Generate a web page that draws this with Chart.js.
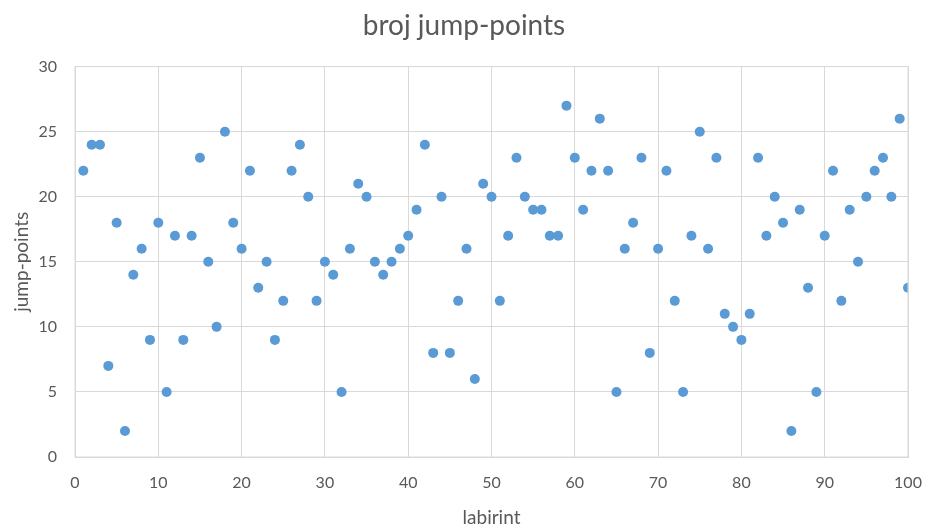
<!DOCTYPE html>
<html>
<head>
<meta charset="utf-8">
<script src="https://cdn.jsdelivr.net/npm/chart.js@4"></script>
<style>
html,body{margin:0;padding:0;background:#fff;}
#wrap{width:928px;height:529px;position:relative;}
</style>
</head>
<body>
<div id="wrap"><canvas id="c" width="928" height="529"></canvas></div>
<script>
const chartTitle = "broj jump-points";
const xTitle = "labirint";
const yTitle = "jump-points";
const labyrinths = [1,2,3,4,5,6,7,8,9,10,11,12,13,14,15,16,17,18,19,20,21,22,23,24,25,26,27,28,29,30,31,32,33,34,35,36,37,38,39,40,41,42,43,44,45,46,47,48,49,50,51,52,53,54,55,56,57,58,59,60,61,62,63,64,65,66,67,68,69,70,71,72,73,74,75,76,77,78,79,80,81,82,83,84,85,86,87,88,89,90,91,92,93,94,95,96,97,98,99,100];
const jumpPoints = [22,24,24,7,18,2,14,16,9,18,5,17,9,17,23,15,10,25,18,16,22,13,15,9,12,22,24,20,12,15,14,5,16,21,20,15,14,15,16,17,19,24,8,20,8,12,16,6,21,20,12,17,23,20,19,19,17,17,27,23,19,22,26,22,5,16,18,23,8,16,22,12,5,17,25,16,23,11,10,9,11,23,17,20,18,2,19,13,5,17,22,12,19,15,20,22,23,20,26,13];
const xMin = 0, xMax = 100, xStep = 10;
const yMin = 0, yMax = 30, yStep = 5;

const points = labyrinths.map((x, i) => ({x: x, y: jumpPoints[i]}));
const textColor = '#595959';
const gridColor = '#d9d9d9';
const fontFamily = 'Lato, "Open Sans", sans-serif';

new Chart(document.getElementById('c'), {
  type: 'scatter',
  data: {
    datasets: [{
      data: points,
      backgroundColor: '#5b9bd5',
      borderColor: '#5b9bd5',
      pointRadius: 5,
      pointHoverRadius: 5,
      borderWidth: 0
    }]
  },
  options: {
    responsive: false,
    animation: false,
    devicePixelRatio: 1,
    layout: {padding: {left: 0, right: 0, top: 0, bottom: 0}},
    plugins: {
      legend: {display: false},
      tooltip: {enabled: false},
      title: {
        display: true,
        text: chartTitle,
        color: textColor,
        font: {family: fontFamily, size: 28, weight: 'normal'},
        padding: {top: 9, bottom: 24}
      }
    },
    scales: {
      x: {
        type: 'linear',
        min: xMin, max: xMax,
        ticks: {stepSize: xStep, color: textColor, font: {family: fontFamily, size: 16}, padding: 16, maxRotation: 0},
        grid: {color: gridColor, drawTicks: false},
        border: {display: true, color: gridColor},
        title: {display: true, text: xTitle, color: textColor, font: {family: fontFamily, size: 19}, padding: {top: 6, bottom: 0}},
        afterFit: s => { s.height = 72; s.paddingRight = 20; s.paddingLeft = 0; }
      },
      y: {
        type: 'linear',
        min: yMin, max: yMax,
        ticks: {stepSize: yStep, color: textColor, font: {family: fontFamily, size: 16}, padding: 18},
        grid: {color: gridColor, drawTicks: false},
        border: {display: true, color: gridColor},
        title: {display: true, text: yTitle, color: textColor, font: {family: fontFamily, size: 19}, padding: {top: 10, bottom: 0}},
        afterFit: s => { s.width = 75; }
      }
    }
  },
  plugins: [{
    id: 'frame',
    afterDraw(chart) {
      const a = chart.chartArea, ctx = chart.ctx;
      ctx.save();
      ctx.strokeStyle = gridColor;
      ctx.lineWidth = 1;
      ctx.strokeRect(a.left, a.top, a.right - a.left, a.bottom - a.top);
      ctx.restore();
    }
  }]
});
</script>
</body>
</html>
